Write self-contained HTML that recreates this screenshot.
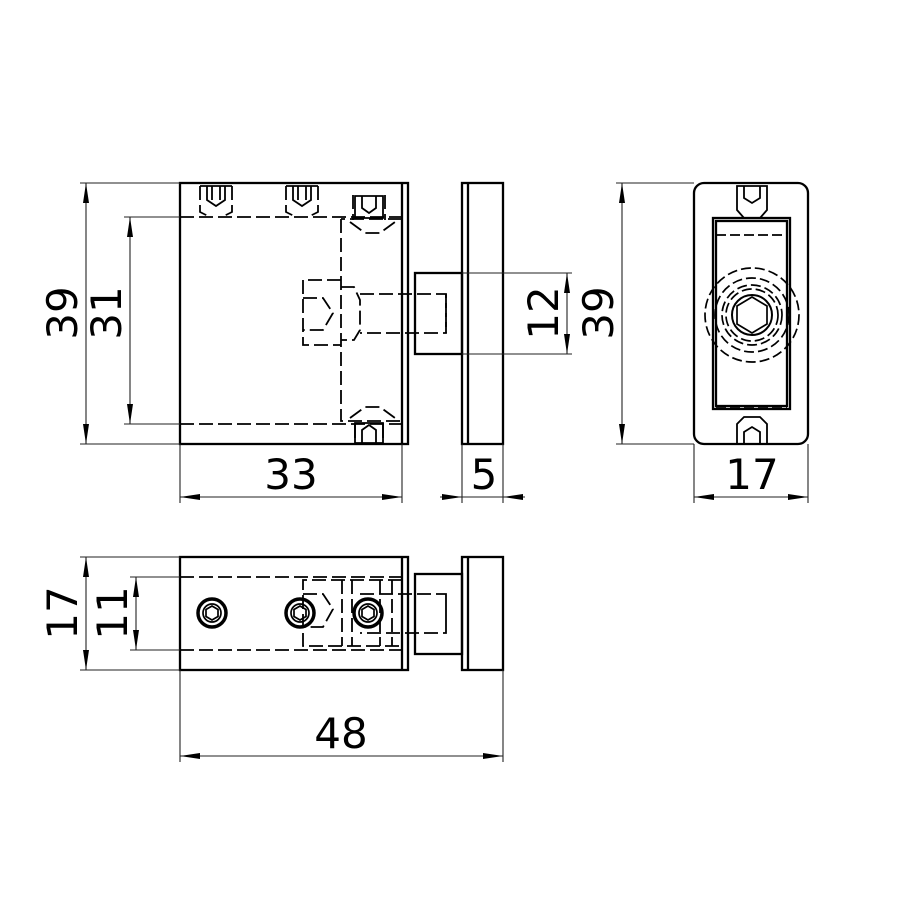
<!DOCTYPE html>
<html><head><style>html,body{margin:0;background:#fff}svg{display:block}
text{font-family:"DejaVu Sans","Liberation Sans",sans-serif;font-size:42px;fill:#000}</style></head>
<body>
<svg width="900" height="900" viewBox="0 0 900 900" xmlns="http://www.w3.org/2000/svg">
<defs>
<marker id="a" viewBox="0 0 20 6" refX="20" refY="3" markerWidth="20" markerHeight="6" markerUnits="userSpaceOnUse" orient="auto-start-reverse"><path d="M0,0L20,3L0,6z" fill="#000"/></marker>
</defs>
<g fill="none" stroke="#000" stroke-width="2.3">
<!-- front view -->
<rect x="180" y="183" width="228" height="261"/>
<line x1="402" y1="183" x2="402" y2="444"/>
<rect x="462" y="183" width="41" height="261"/>
<line x1="468" y1="183" x2="468" y2="444"/>
<rect x="415" y="273" width="47" height="81"/>
<g stroke-dasharray="14,5" stroke-width="1.8">
<line x1="180" y1="217" x2="402" y2="217"/>
<line x1="180" y1="424" x2="402" y2="424"/>
<path d="M341,219V421H402"/>
<path d="M402,219H341"/>
<path d="M341,280H303V345H341"/>
<path d="M303,298H323L333,313L323,330H303"/>
<path d="M341,287H354L360,300V330L354,340H341"/>
<path d="M360,294H446V333H360"/>
<path d="M446,294V333"/>
<path d="M200,186V212L210,217M232,186V212L222,217"/>
<path d="M286,186V212L296,217M318,186V212L308,217"/>
<path d="M353,195V220M385,195V220"/>
<path d="M350,222L365,233H380L395,222"/>
<path d="M350,418L365,407H380L395,418"/>
<path d="M355,424V444M383,424V444"/>
</g>
<g stroke-width="1.8">
<path d="M200,186H232M207,186V200L216,206L225,200V186M212,186V200M220,186V200"/>
<path d="M286,186H318M293,186V200L302,206L311,200V186M298,186V200M306,186V200"/>
<path d="M355,196H383V218H355zM362,196V208L369,213L376,208V196"/>
<path d="M355,423H383V443H355zM362,443V430L369,425L376,430V443"/>
</g>
<!-- right view -->
<rect x="694" y="183" width="114" height="261" rx="10"/>
<rect x="713" y="218" width="77" height="191"/>
<rect x="716" y="221" width="71" height="185"/>
<g stroke-dasharray="10,4" stroke-width="1.7">
<line x1="716" y1="235" x2="787" y2="235"/>
<line x1="716" y1="408" x2="787" y2="408"/>
<circle cx="752" cy="315" r="47"/>
<circle cx="752" cy="315" r="37"/>
<circle cx="752" cy="315" r="30"/>
<circle cx="752" cy="315" r="26"/>
</g>
<circle cx="752" cy="315" r="20" stroke-width="2"/>
<polygon points="752,297 767,306 767,324 752,333 737,324 737,306" stroke-width="1.7"/>
<path d="M737,186H767V210L760,218H744L737,210zM744,186V198L752,203L760,198V186" stroke-width="1.8"/>
<path d="M737,444V424L744,417H760L767,424V444M744,444V432L752,427L760,432V444" stroke-width="1.8"/>
<!-- bottom view -->
<rect x="180" y="557" width="228" height="113"/>
<line x1="402" y1="557" x2="402" y2="670"/>
<rect x="462" y="557" width="41" height="113"/>
<line x1="468" y1="557" x2="468" y2="670"/>
<rect x="415" y="574" width="47" height="80"/>
<g stroke-dasharray="14,5" stroke-width="1.8">
<line x1="180" y1="577" x2="402" y2="577"/>
<line x1="180" y1="650" x2="402" y2="650"/>
<path d="M402,580H303V646H402"/>
<path d="M303,594H323L333,609L323,627H303"/>
<path d="M342,580V646M352,580V646M380,580V646M392,580V646"/>
<path d="M360,594H446V633H360M446,594V633"/>
</g>
<g stroke-width="1.7">
<circle cx="212" cy="613" r="14" stroke-width="3.5"/><circle cx="212" cy="613" r="9"/>
<polygon points="212,606 218,609.5 218,616.5 212,620 206,616.5 206,609.5"/>
<circle cx="300" cy="613" r="14" stroke-width="3.5"/><circle cx="300" cy="613" r="9"/>
<polygon points="300,606 306,609.5 306,616.5 300,620 294,616.5 294,609.5"/>
<circle cx="368" cy="613" r="14" stroke-width="3.5"/><circle cx="368" cy="613" r="9"/>
<polygon points="368,606 374,609.5 374,616.5 368,620 362,616.5 362,609.5"/>
</g>
</g>
<!-- dimensions -->
<g stroke="#222" stroke-width="1.1" fill="none">
<path d="M80,183H180M80,444H180M124,217H180M124,424H180"/>
<path d="M180,444V503M402,444V503M462,444V503M503,444V503M694,444V503M808,444V503"/>
<path d="M462,273H572M462,354H572M616,183H694M616,444H694"/>
<path d="M80,557H180M80,670H180M130,577H180M130,650H180M180,670V762M503,670V762"/>
<line x1="86" y1="183" x2="86" y2="444" marker-start="url(#a)" marker-end="url(#a)"/>
<line x1="130" y1="217" x2="130" y2="424" marker-start="url(#a)" marker-end="url(#a)"/>
<line x1="180" y1="497" x2="402" y2="497" marker-start="url(#a)" marker-end="url(#a)"/>
<line x1="440" y1="497" x2="462" y2="497" marker-end="url(#a)"/>
<line x1="525" y1="497" x2="503" y2="497" marker-end="url(#a)"/>
<line x1="462" y1="497" x2="503" y2="497"/>
<line x1="567" y1="273" x2="567" y2="354" marker-start="url(#a)" marker-end="url(#a)"/>
<line x1="622" y1="183" x2="622" y2="444" marker-start="url(#a)" marker-end="url(#a)"/>
<line x1="694" y1="497" x2="808" y2="497" marker-start="url(#a)" marker-end="url(#a)"/>
<line x1="86" y1="557" x2="86" y2="670" marker-start="url(#a)" marker-end="url(#a)"/>
<line x1="136" y1="577" x2="136" y2="650" marker-start="url(#a)" marker-end="url(#a)"/>
<line x1="180" y1="756" x2="503" y2="756" marker-start="url(#a)" marker-end="url(#a)"/>
</g>
<g text-anchor="middle">
<text transform="translate(77,313) rotate(-90)">39</text>
<text transform="translate(121,313) rotate(-90)">31</text>
<text x="291" y="489">33</text>
<text x="484" y="489">5</text>
<text transform="translate(558,313) rotate(-90)">12</text>
<text transform="translate(613,313) rotate(-90)">39</text>
<text x="752" y="489">17</text>
<text transform="translate(77,613) rotate(-90)">17</text>
<text transform="translate(127,613) rotate(-90)">11</text>
<text x="341" y="748">48</text>
</g>
</svg>
</body></html>
